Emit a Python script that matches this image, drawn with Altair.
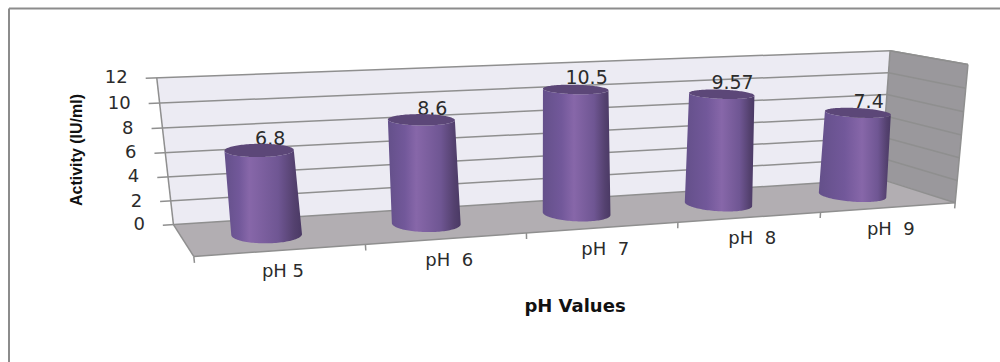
import numpy as np
import pandas as pd
import altair as alt

# Chart content
CATEGORIES = ["pH 5", "pH\u00a0\u00a06", "pH\u00a0\u00a07", "pH\u00a0\u00a08", "pH\u00a0\u00a09"]
ACTIVITY = [6.8, 8.6, 10.5, 9.57, 7.4]
ACTIVITY_LABELS = ["6.8", "8.6", "10.5", "9.57", "7.4"]
Y_TICKS = [0, 2, 4, 6, 8, 10, 12]
Y_TITLE = "Activity (IU/ml)"
X_TITLE = "pH Values"

# Colours
WALL = "#ecebf3"
FLOOR = "#b2aeb2"
SIDE = "#9a989c"
GRID = "#8f8f8f"
FRAME = "#8c8c8c"
TEXT = "#2b2b2b"

# Camera for the 3D box: (category position, depth, value) -> canvas pixel.
# Solved by least squares from where the corners of the box are to appear.
BOX = [
    ((0, 0, 0), (194, 258)), ((5, 0, 0), (953, 202)),
    ((0, 1, 0), (173, 223)), ((5, 1, 0), (883, 180)),
    ((0, 1, 12), (157, 78)), ((5, 1, 12), (888, 51)),
    ((5, 0, 12), (970, 64)),
]


def solve_camera(pairs):
    rows, rhs = [], []
    for (s, d, v), (px, py) in pairs:
        rows.append([s, d, v, 1, 0, 0, 0, 0, -px * s, -px * d, -px * v])
        rhs.append(px)
        rows.append([0, 0, 0, 0, s, d, v, 1, -py * s, -py * d, -py * v])
        rhs.append(py)
    m = np.linalg.lstsq(np.array(rows, float), np.array(rhs, float), rcond=None)[0]
    return np.append(m, 1.0).reshape(3, 4)


CAM = solve_camera(BOX)


def project(s, d, v):
    h = CAM @ np.array([s, d, v, 1.0])
    return float(h[0] / h[2]), float(h[1] / h[2])


X = alt.Scale(domain=[0, 1000])
Y = alt.Scale(domain=[362, 0])


def xy():
    return dict(
        x=alt.X("x:Q", scale=X, axis=None),
        y=alt.Y("y:Q", scale=Y, axis=None),
    )


def filled_path(pts, fill):
    pts = list(pts) + [pts[0]]
    df = pd.DataFrame({"x": [p[0] for p in pts], "y": [p[1] for p in pts], "o": range(len(pts))})
    return alt.Chart(df).mark_line(fill=fill, strokeWidth=0, interpolate="linear").encode(
        order="o:Q", **xy()
    )


def polygon(corners, fill):
    return filled_path([project(*c) for c in corners], fill)


def segments(pairs, color, width):
    rows = []
    for a, b in pairs:
        pa, pb = project(*a), project(*b)
        rows.append({"x": pa[0], "y": pa[1], "x2": pb[0], "y2": pb[1]})
    return alt.Chart(pd.DataFrame(rows)).mark_rule(color=color, strokeWidth=width).encode(
        x2="x2:Q", y2="y2:Q", **xy()
    )


layers = []

# Outer frame: only the top and left sides are drawn
frame = pd.DataFrame({"x": [9, 9], "y": [8.5, 8.5], "x2": [9, 1000], "y2": [362, 8.5]})
layers.append(
    alt.Chart(frame).mark_rule(color=FRAME, strokeWidth=2).encode(x2="x2:Q", y2="y2:Q", **xy())
)

# Box faces
n = len(CATEGORIES)
layers.append(polygon([(0, 1, 0), (n, 1, 0), (n, 1, 12), (0, 1, 12)], WALL))
layers.append(polygon([(n, 1, 0), (n, 0, 0), (n, 0, 12), (n, 1, 12)], SIDE))
layers.append(polygon([(0, 0, 0), (n, 0, 0), (n, 1, 0), (0, 1, 0)], FLOOR))

# Gridlines, ticks and axis edges
TICK_OUT = 0.065
grid = []
for t in Y_TICKS:
    grid.append(((-TICK_OUT, 1, t), (n, 1, t)))
    grid.append(((n, 1, t), (n, 0, t)))
layers.append(segments(grid, GRID, 1.5))
edges = [((0, 1, 0), (0, 1, 12)), ((0, 0, 0), (0, 1, 0)), ((0, 0, 0), (n, 0, 0)),
         ((n, 0, 0), (n, 0, 12)), ((n, 0, 12), (n, 1, 12)), ((n, 1, 0), (n, 1, 12))]
edges += [((k, 0, 0), (k, 0, -0.5)) for k in range(n + 1)]
layers.append(segments(edges, GRID, 1.5))

# Value axis labels
tick_rows = []
for t in Y_TICKS:
    px, py = project(-TICK_OUT, 1, t)
    tick_rows.append({"x": px, "y": py, "t": str(t)})
layers.append(
    alt.Chart(pd.DataFrame(tick_rows)).mark_text(
        align="right", baseline="middle", dx=-18, font="DejaVu Sans", fontSize=18, color=TEXT
    ).encode(text="t:N", **xy())
)

# Category labels along the front edge of the floor
cat_rows = []
for i, c in enumerate(CATEGORIES):
    px, py = project(i + 0.5, 0, 0)
    cat_rows.append({"x": px, "y": py, "t": c})
layers.append(
    alt.Chart(pd.DataFrame(cat_rows)).mark_text(
        align="center", baseline="middle", dx=2, dy=22, font="DejaVu Sans", fontSize=18, color=TEXT
    ).encode(text="t:N", **xy())
)

# Value labels sit behind the cylinders
RADIUS_S = 0.21
RADIUS_D = 0.28
DEPTH = 0.5
TAPER = 0.006  # the cylinders keep a nearly constant width on screen as they rise
lab_rows = []
for i, (v, t) in enumerate(zip(ACTIVITY, ACTIVITY_LABELS)):
    px, py = project(i + 0.5, DEPTH, v)
    lab_rows.append({"x": px, "y": py, "t": t})
layers.append(
    alt.Chart(pd.DataFrame(lab_rows)).mark_text(
        align="center", baseline="middle", dx=11, dy=-11, font="DejaVu Sans", fontSize=19, color=TEXT
    ).encode(text="t:N", **xy())
)


def shading(highlight):
    stops = [
        (0.0, "#64508a"),
        (highlight * 0.6, "#72589a"),
        (highlight, "#8767a9"),
        (highlight + (1 - highlight) * 0.55, "#6f5693"),
        (highlight + (1 - highlight) * 0.85, "#54416f"),
        (1.0, "#4a3964"),
    ]
    return alt.Gradient(
        gradient="linear",
        x1=0, x2=1, y1=0, y2=0,
        stops=[alt.GradientStop(color=c, offset=o) for o, c in stops],
    )


def ring(cx, v, scale):
    """Projected outline of a cylinder cross-section at height v."""
    return [
        project(cx + RADIUS_S * scale * np.cos(a), DEPTH + RADIUS_D * scale * np.sin(a), v)
        for a in np.linspace(0, 2 * np.pi, 120)[:-1]
    ]


def front_arc(points):
    """Lower edge of a projected ellipse, from its leftmost to its rightmost point."""
    xs = [p[0] for p in points]
    lo, hi = int(np.argmin(xs)), int(np.argmax(xs))
    m = len(points)
    forward = [points[(lo + k) % m] for k in range((hi - lo) % m + 1)]
    backward = [points[(lo - k) % m] for k in range((lo - hi) % m + 1)]
    mean_y = lambda arc: sum(p[1] for p in arc) / len(arc)
    return forward if mean_y(forward) > mean_y(backward) else backward


# Cylinders: body between the silhouette points of both ends, then the top cap
for i, v in enumerate(ACTIVITY):
    cx = i + 0.5
    top = 1 - TAPER * v
    base_ring, top_ring = ring(cx, 0, 1), ring(cx, v, top)
    outline = front_arc(base_ring) + front_arc(top_ring)[::-1]
    layers.append(filled_path(outline, shading(0.32 + 0.07 * i)))
    layers.append(filled_path(top_ring, "#5c4778"))

# Axis titles
layers.append(
    alt.Chart(pd.DataFrame({"x": [77], "y": [150], "t": [Y_TITLE]})).mark_text(
        angle=270, align="center", baseline="middle", font="Liberation Sans",
        fontSize=16, fontWeight="bold", color="#111111"
    ).encode(text="t:N", **xy())
)
layers.append(
    alt.Chart(pd.DataFrame({"x": [575], "y": [307], "t": [X_TITLE]})).mark_text(
        align="center", baseline="middle", font="DejaVu Sans",
        fontSize=18, fontWeight="bold", color="#111111"
    ).encode(text="t:N", **xy())
)

chart = (
    alt.layer(*layers)
    .properties(width=1000, height=362, padding=0, background="white",
                autosize=alt.AutoSizeParams(type="none"))
    .configure_view(stroke=None)
)

chart.save("out.html", embed_options={"renderer": "svg", "actions": False})
